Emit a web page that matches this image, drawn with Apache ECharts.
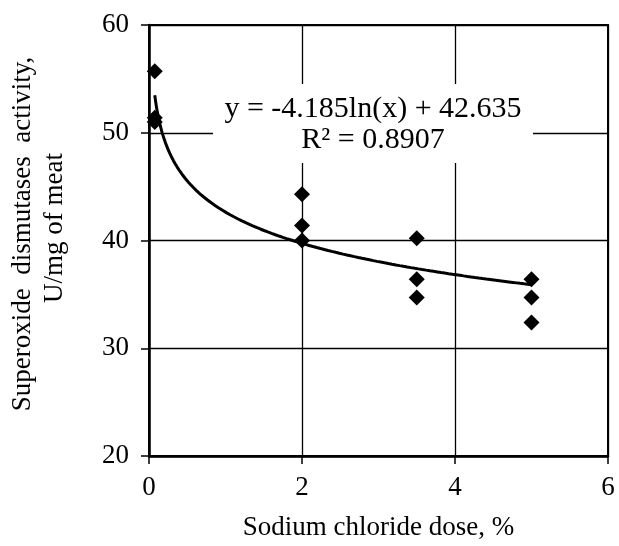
<!DOCTYPE html>
<html>
<head>
<meta charset="utf-8">
<script src="https://cdn.jsdelivr.net/npm/echarts@6/dist/echarts.min.js"></script>
<style>
html,body{margin:0;padding:0;background:#fff;}
#chart{width:619px;height:546px;}
</style>
</head>
<body>
<div id="chart"></div>
<script>
// Data
const doseX = [0.075, 0.075, 0.075, 2, 2, 2, 3.5, 3.5, 3.5, 5, 5, 5];
const sodY  = [55.7, 51.0, 51.4, 44.3, 41.4, 40.0, 40.2, 36.4, 34.7, 36.4, 34.7, 32.4];
const xTicks = [0, 2, 4, 6];
const yTicks = [20, 30, 40, 50, 60];
// Logarithmic trendline as printed on the chart
const trendA = -4.185;
const trendB = 42.635;
const trendLabel = ['y = -4.185ln(x) + 42.635', 'R² = 0.8907'];
const xTitle = 'Sodium chloride dose, %';
const yTitle = ['Superoxide  dismutases  activity,', 'U/mg of meat'];

const xMinData = Math.min(...doseX), xMaxData = Math.max(...doseX);
const trendPts = [];
const N = 200;
for (let i = 0; i <= N; i++) {
  const x = xMinData + (xMaxData - xMinData) * i / N;
  trendPts.push([x, trendA * Math.log(x) + trendB]);
}

const FONT = '"Liberation Serif", "Times New Roman", serif';
const chart = echarts.init(document.getElementById('chart'));
chart.setOption({
  backgroundColor: '#fff',
  animation: false,
  grid: { left: 149, right: 11, top: 25, bottom: 84, show: true, borderColor: '#000', borderWidth: 2, backgroundColor: 'transparent' },
  xAxis: {
    type: 'value', min: xTicks[0], max: xTicks[xTicks.length - 1], interval: 2,
    axisLine: { show: true, lineStyle: { color: '#000', width: 2.5 } },
    axisTick: { show: true, length: 8, lineStyle: { color: '#000', width: 1.5 } },
    axisLabel: { color: '#000', fontFamily: FONT, fontSize: 27, margin: 18 },
    splitLine: { show: true, lineStyle: { color: '#000', width: 1.3 } },
    name: xTitle, nameLocation: 'middle', nameGap: 58,
    nameTextStyle: { color: '#000', fontFamily: FONT, fontSize: 27 }
  },
  yAxis: {
    type: 'value', min: yTicks[0], max: yTicks[yTicks.length - 1], interval: 10,
    axisLine: { show: true, lineStyle: { color: '#000', width: 2.5 } },
    axisTick: { show: true, length: 8, lineStyle: { color: '#000', width: 1.5 } },
    axisLabel: { color: '#000', fontFamily: FONT, fontSize: 27, margin: 20 },
    splitLine: { show: true, lineStyle: { color: '#000', width: 1.3 } }
  },
  graphic: [
    { type: 'rect', z: 100, shape: { x: 213, y: 84, width: 320, height: 79 }, style: { fill: '#fff' } },
    { type: 'text', z: 101, x: 373, y: 125, style: { text: trendLabel.join('\n'), fill: '#000', font: '30px ' + FONT, textAlign: 'center', textVerticalAlign: 'middle', lineHeight: 31 } },
    { type: 'text', z: 101, x: 23, y: 234, rotation: Math.PI / 2, style: { text: yTitle[0], fill: '#000', font: '27px ' + FONT, textAlign: 'center', textVerticalAlign: 'middle' } },
    { type: 'text', z: 101, x: 55, y: 228, rotation: Math.PI / 2, style: { text: yTitle[1], fill: '#000', font: '27px ' + FONT, textAlign: 'center', textVerticalAlign: 'middle' } }
  ],
  series: [
    {
      type: 'line', data: trendPts, showSymbol: false, symbol: 'none', smooth: false,
      lineStyle: { color: '#000', width: 3 }, z: 3, silent: true
    },
    {
      type: 'scatter', data: doseX.map((x, i) => [x, sodY[i]]),
      symbol: 'diamond', symbolSize: 16, itemStyle: { color: '#000', opacity: 1 }, z: 4
    }
  ]
});
</script>
</body>
</html>
